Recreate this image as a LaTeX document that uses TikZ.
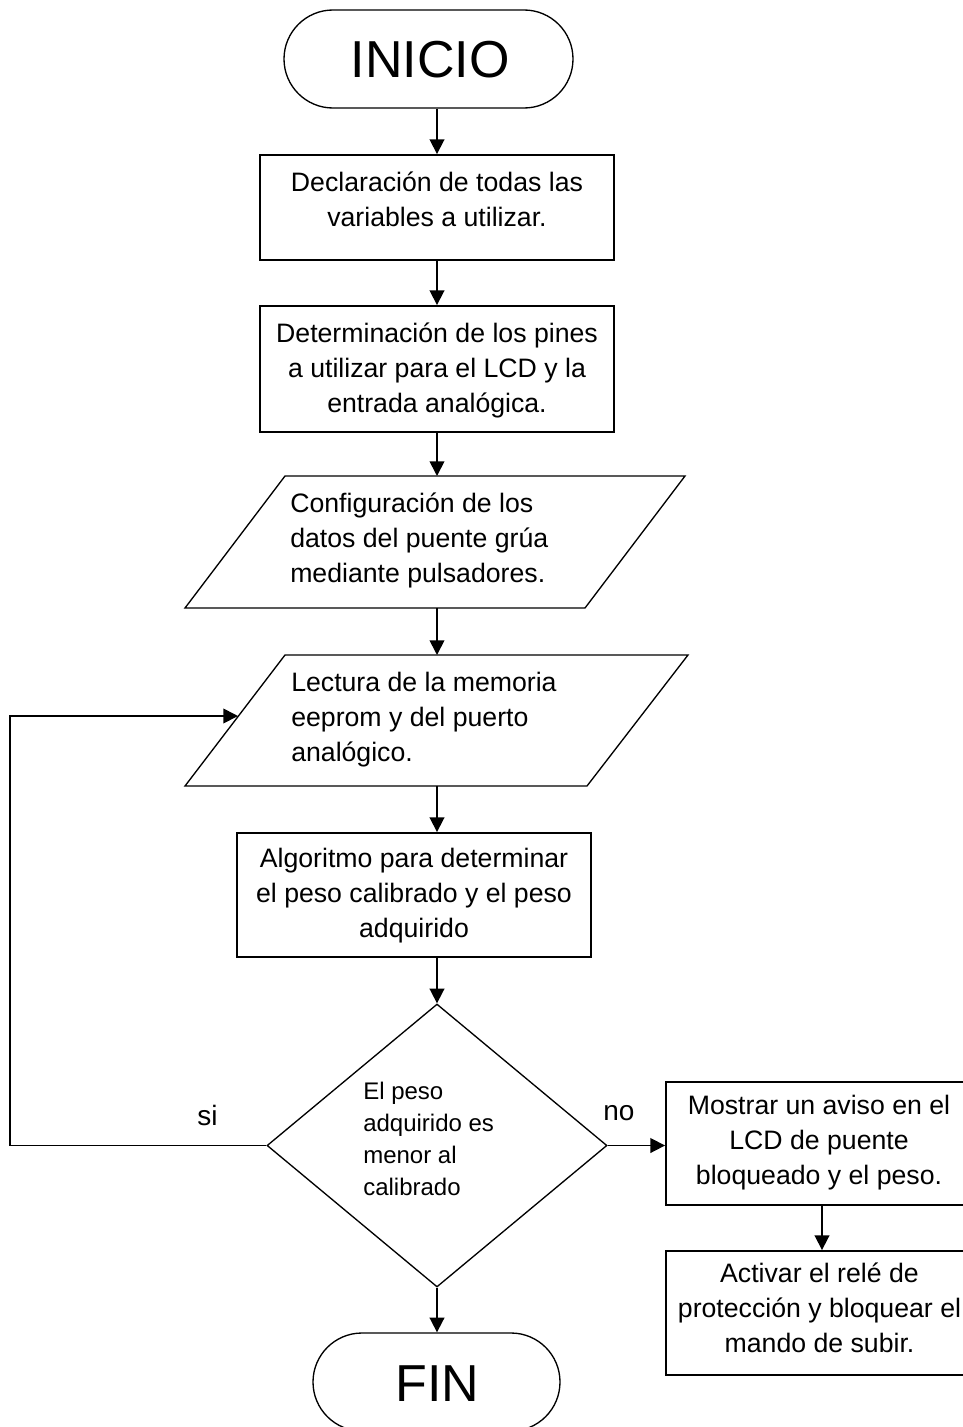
\documentclass[tikz,border=0pt]{standalone}
\usepackage{fontspec}
\setmainfont{Liberation Sans}
\usetikzlibrary{shapes.geometric,arrows.meta,calc}
\begin{document}
\begin{tikzpicture}[x=0.75pt,y=-0.75pt,
  sz/.style 2 args={minimum width={#1*0.75pt}, minimum height={#2*0.75pt}},
  procbox/.style={draw, line width=1.4pt, rectangle, inner sep=0pt},
  term/.style={draw, line width=1pt, rectangle, rounded corners=36.75pt, inner sep=0pt},
  decis/.style={draw, line width=1pt, diamond, inner sep=0pt},
  ghost/.style={inner sep=0pt, outer sep=0pt},
  iobox/.style={line width=1pt, line join=miter},
  maintext/.style={font=\fontsize{20}{26.25}\selectfont, inner sep=0pt},
  smalltext/.style={font=\fontsize{18}{24.2}\selectfont, inner sep=0pt},
  bigtext/.style={font=\fontsize{39}{47}\selectfont, inner sep=0pt},
  labtext/.style={font=\fontsize{21}{25}\selectfont, inner sep=0pt},
  flow/.style={line width=1.3pt, -{Triangle[length=11pt,width=11pt]}}
]
\useasboundingbox (0,0) rectangle (963,1427);

% terminals
\node[term, sz={289}{98}] (ini) at (428.5,59) {};
\node[bigtext] (tini) at (430,60) {INICIO};

\node[term, sz={247}{98}] (fin) at (436.5,1382) {};
\node[bigtext] (tfin) at (437.5,1384) {FIN};

% process boxes
\node[procbox, sz={354}{105}] (b1) at (437,207.5) {};
\node[maintext, align=center] (t1) at (437,199) {Declaración de todas las\\variables a utilizar.};

\node[procbox, sz={354}{126}] (b2) at (437,369) {};
\node[maintext, align=center] (t2) at (437,370) {Determinación de los pines\\a utilizar para el LCD y la\\entrada analógica.};

% parallelograms (input/output)
\node[ghost, sz={300}{132}] (p1) at (437,542) {};
\draw[iobox] (285,476) -- (685,476) -- (585,608) -- (185,608) -- cycle;
\node[maintext, align=left, anchor=west] (t3) at (290,540) {Configuración de los\\datos del puente grúa\\mediante pulsadores.};

\node[ghost, sz={300}{131}] (p2) at (437,720.5) {};
\draw[iobox] (285,655) -- (688,655) -- (587,786) -- (185,786) -- cycle;
\node[maintext, align=left, anchor=west] (t4) at (291,720) {Lectura de la memoria\\eeprom y del puerto\\analógico.};

\node[procbox, sz={354}{124}] (b3) at (414,895) {};
\node[maintext, align=center] (t5) at (414,896) {Algoritmo para determinar\\el peso calibrado y el peso\\adquirido};

% decision
\node[decis, sz={340}{283}] (d) at (437,1145.5) {};
\node[smalltext, align=left, anchor=west] (t6) at (363,1139) {El peso\\adquirido es\\menor al\\calibrado};

\node[labtext, anchor=base west] (si) at (197,1125) {si};
\node[labtext, anchor=base west] (no) at (603,1120) {no};

% right branch
\node[procbox, sz={312}{123}] (b4) at (822,1143.5) {};
\node[maintext, align=center] (t7) at (819,1143) {Mostrar un aviso en el\\LCD de puente\\bloqueado y el peso.};

\node[procbox, sz={312}{124}] (b5) at (822,1313) {};
\node[maintext, align=center] (t8) at (819.5,1308) {Activar el relé de\\protección y bloquear el\\mando de subir.};

% loop coordinates
\coordinate (loopc) at (10,716);
\coordinate (loopin) at (238,716);

% connectors
\draw[flow] (ini.south -| b1.north) -- (b1.north);
\draw[flow] (b1.south) -- (b2.north);
\draw[flow] (b2.south) -- (p1.north);
\draw[flow] (p1.south) -- (p2.north);
\draw[flow] (p2.south) -- (p2.south |- b3.north);
\draw[flow] (b3.south -| d.north) -- (d.north);
\draw[flow] (d.south) -- (d.south |- fin.north);
\draw[flow] (d.east) -- (d.east -| b4.west);
\draw[flow] (b4.south) -- (b5.north);
\draw[flow] (d.west) -| (loopc) -- (loopin);
\end{tikzpicture}
\end{document}
